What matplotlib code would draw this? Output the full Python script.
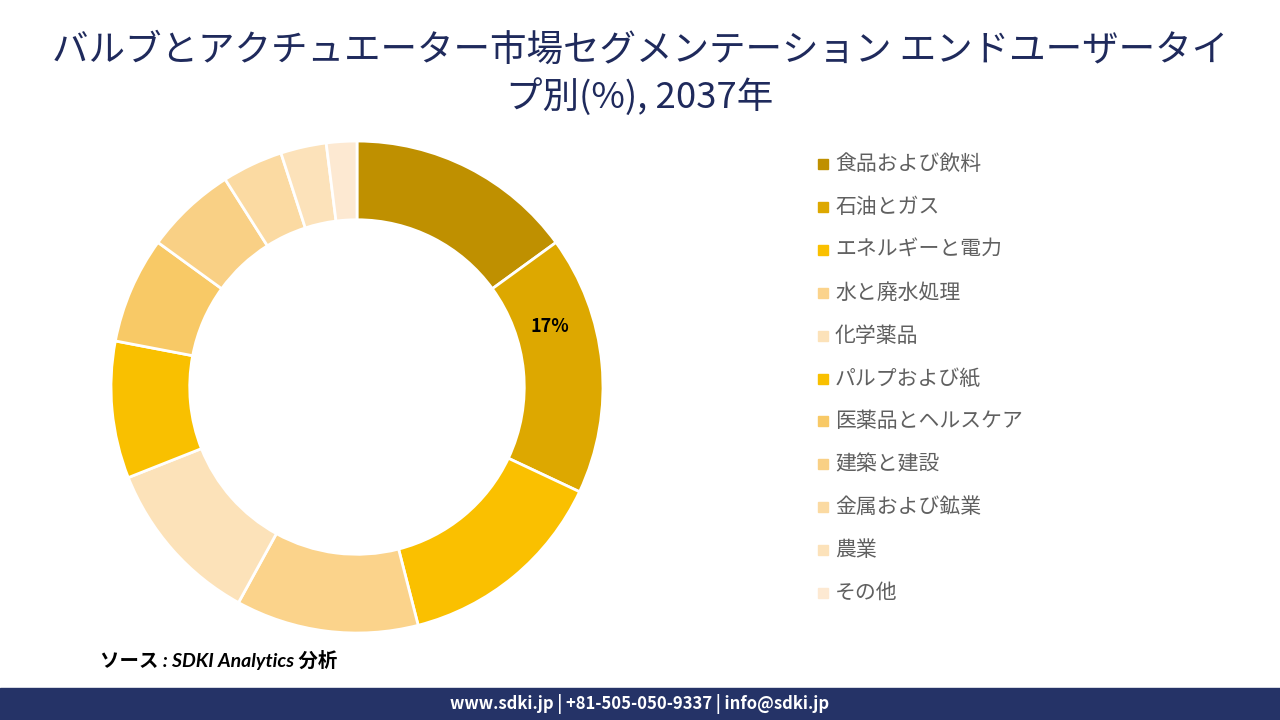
import numpy as np
import matplotlib.pyplot as plt
from matplotlib.patches import Rectangle

plt.rcParams['font.family'] = ['Noto Sans CJK JP', 'DejaVu Sans']

# segment data (share in %, 2037)
segments = ['食品および飲料', '石油とガス', 'エネルギーと電力', '水と廃水処理', '化学薬品',
            'パルプおよび紙', '医薬品とヘルスケア', '建築と建設', '金属および鉱業', '農業', 'その他']
shares = [15, 17, 14, 12, 11, 9, 7, 6, 4, 3, 2]
colors = ['#BF9000', '#DDA800', '#FAC000', '#FBD38B', '#FCE2B9', '#F9C000',
          '#F8C966', '#F9D085', '#FBDAA2', '#FCE2BA', '#FDE9D2']
shown_label = '石油とガス'

fig = plt.figure(figsize=(12.8, 7.2), dpi=100)

# title
fig.text(0.5, 0.930, 'バルブとアクチュエーター市場セグメンテーション エンドユーザータイ',
         ha='center', va='center', fontsize=26.3, color='#1F2A5C')
fig.text(0.5, 0.865, 'プ別(%), 2037年', ha='center', va='center', fontsize=26.3, color='#1F2A5C')

# donut
ax = fig.add_axes([0.0867, 0.1208, 0.3844, 0.6833])
wedges, _ = ax.pie(shares, colors=colors, startangle=90, counterclock=False, radius=1,
                   wedgeprops=dict(width=0.32, edgecolor='white', linewidth=2))
for w, s, v in zip(wedges, segments, shares):
    if s == shown_label:
        ang = np.deg2rad((w.theta1 + w.theta2) / 2 + 12)
        ax.text(0.82 * np.cos(ang), 0.82 * np.sin(ang), f'{v}%', ha='center', va='center',
                fontsize=13, fontweight='bold', color='black')
ax.set_xlim(-1, 1)
ax.set_ylim(-1, 1)
ax.set_aspect('equal')
ax.axis('off')

# legend
for i, (s, c) in enumerate(zip(segments, colors)):
    y = 1 - (164 + i * 42.9) / 720
    fig.patches.append(Rectangle((818 / 1280, y - 5 / 720), 10 / 1280, 10 / 720,
                                 transform=fig.transFigure, color=c))
    fig.text(835 / 1280, y, s, ha='left', va='center', fontsize=15, color='#606060')

# source
fig.text(100 / 1280, 1 - 660 / 720, 'ソース : SDKI Analytics 分析', ha='left', va='center',
         fontsize=14, fontstyle='italic', fontweight='bold', color='black',
         family=['Lato', 'Noto Sans CJK JP'])

# footer
fig.patches.append(Rectangle((0, 0), 1, 32 / 720, transform=fig.transFigure, color='#253367'))
fig.text(0.5, 16 / 720, 'www.sdki.jp | +81-505-050-9337 | info@sdki.jp', ha='center', va='center',
         fontsize=12, fontweight='bold', color='white')

fig.savefig('out.png', dpi=100)
